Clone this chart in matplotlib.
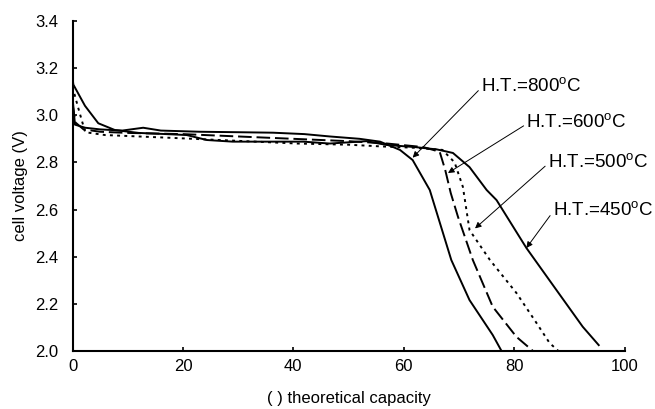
import matplotlib
matplotlib.use("Agg")
import matplotlib.pyplot as plt

plt.rcParams['font.family'] = ['Liberation Sans', 'DejaVu Sans']
plt.rcParams['mathtext.fontset'] = 'custom'
plt.rcParams['mathtext.rm'] = 'Liberation Sans'
plt.rcParams['mathtext.it'] = 'Liberation Sans'

# H.T.=800 C (solid)
cap_800 = [0.0, 0.1, 0.45, 2.3, 5, 9, 12.8, 16, 23, 30, 36.3, 42, 46.6, 52, 55.7,
           59.3, 61.6, 64.7, 68.6, 71.9, 76.1, 77.7]
v_800 = [3.18, 3.05, 2.96, 2.947, 2.94, 2.935, 2.947, 2.935, 2.93, 2.928, 2.926, 2.92,
         2.91, 2.90, 2.888, 2.853, 2.81, 2.683, 2.386, 2.216, 2.068, 2.0]

# H.T.=600 C (long dash)
cap_600 = [0.0, 0.5, 2.0, 5, 10, 20, 30, 40, 50, 57, 63.5, 66.5, 67.5, 68.5, 69.8,
           72.5, 76.1, 80.4, 83.4]
v_600 = [3.05, 2.97, 2.94, 2.93, 2.925, 2.92, 2.91, 2.90, 2.89, 2.88, 2.865, 2.845,
         2.768, 2.67, 2.57, 2.386, 2.188, 2.06, 2.0]

# H.T.=500 C (dotted)
cap_500 = [0.0, 1.05, 1.66, 2.3, 5.9, 17, 28.5, 40.7, 50, 55.7, 62, 67, 69.2, 70.7,
           71.9, 75.6, 80.4, 84, 86.4, 88.0]
v_500 = [3.12, 3.03, 2.98, 2.928, 2.916, 2.905, 2.893, 2.88, 2.875, 2.868, 2.862, 2.853,
         2.80, 2.696, 2.513, 2.386, 2.246, 2.12, 2.034, 2.0]

# H.T.=450 C (solid)
cap_450 = [0.0, 0.15, 2.26, 4.67, 7.7, 12, 17, 20.7, 24.3, 29, 35, 41.8, 46.6, 53.2,
           56.9, 62, 66, 68.9, 71.9, 75, 76.8, 82.2, 87.6, 92.4, 95.3]
v_450 = [3.16, 3.13, 3.04, 2.966, 2.937, 2.925, 2.92, 2.916, 2.895, 2.888, 2.888, 2.888,
         2.88, 2.89, 2.874, 2.865, 2.855, 2.84, 2.78, 2.683, 2.64, 2.437, 2.26, 2.103, 2.025]

fig = plt.figure(figsize=(6.55, 4.09), dpi=100)
ax = fig.add_axes([0.1107, 0.1418, 0.843, 0.807])

ax.plot(cap_800, v_800, color='black', lw=1.4)
ax.plot(cap_600, v_600, color='black', lw=1.4, dashes=(7, 2.5))
ax.plot(cap_500, v_500, color='black', lw=1.4, dashes=(1.5, 2.2))
ax.plot(cap_450, v_450, color='black', lw=1.4)

ax.set_xlim(0, 100)
ax.set_ylim(2.0, 3.4)
ax.set_xticks([0, 20, 40, 60, 80, 100])
ax.set_yticks([2.0, 2.2, 2.4, 2.6, 2.8, 3.0, 3.2, 3.4])
ax.set_yticklabels(['2.0', '2.2', '2.4', '2.6', '2.8', '3.0', '3.2', '3.4'])
ax.tick_params(direction='in', length=3, width=1.2, labelsize=12)
ax.tick_params(axis='y', pad=10)
ax.tick_params(axis='x', pad=6)
for s in ['top', 'right']:
    ax.spines[s].set_visible(False)
for s in ['left', 'bottom']:
    ax.spines[s].set_linewidth(1.5)

ax.set_xlabel('( ) theoretical capacity', fontsize=12, labelpad=12)
ax.set_ylabel('cell voltage (V)', fontsize=12, labelpad=5)

# labels with arrows
labels = ['H.T.=800$^{\\mathrm{o}}$C', 'H.T.=600$^{\\mathrm{o}}$C',
          'H.T.=500$^{\\mathrm{o}}$C', 'H.T.=450$^{\\mathrm{o}}$C']
heads = [(61.6, 2.82), (68.0, 2.755), (72.9, 2.52), (82.2, 2.437)]
texts = [(74.0, 3.124), (82.2, 2.97), (86.1, 2.802), (87.0, 2.598)]
for lab, hd, tx in zip(labels, heads, texts):
    ax.annotate(lab, xy=hd, xytext=tx, fontsize=13.5, ha='left', va='center',
                arrowprops=dict(arrowstyle='-|>', color='black', lw=0.7,
                                mutation_scale=9, shrinkA=0, shrinkB=0,
                                relpos=(0, 0.4)),
                annotation_clip=False)

fig.savefig('out.png', dpi=100)
